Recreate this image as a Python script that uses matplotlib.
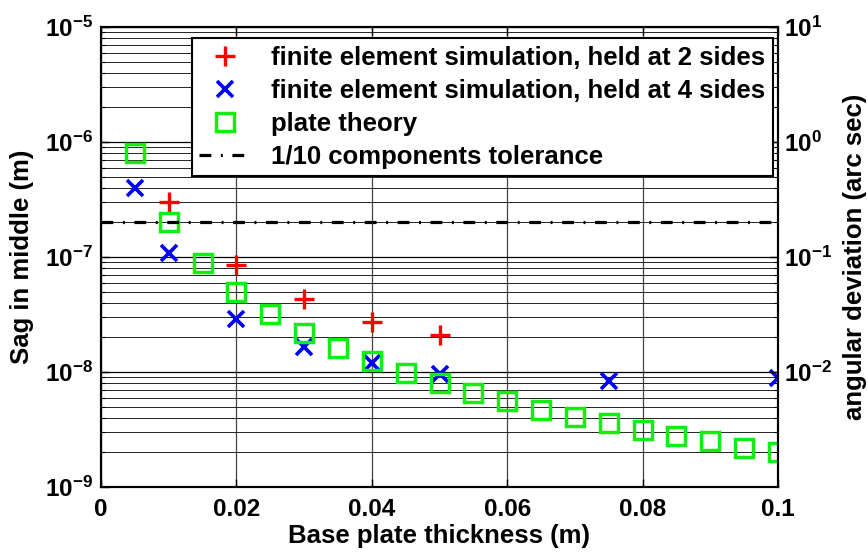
import math
import matplotlib
matplotlib.use('Agg')
import matplotlib.pyplot as plt
from matplotlib.ticker import FixedLocator, FuncFormatter, NullFormatter

# ---------------- data ----------------
thickness_plate = [0.005, 0.010, 0.015, 0.020, 0.025, 0.030, 0.035, 0.040, 0.045, 0.050,
                   0.055, 0.060, 0.065, 0.070, 0.075, 0.080, 0.085, 0.090, 0.095, 0.100]
sag_plate = [8.0e-7, 2.0e-7, 8.9e-8, 5.0e-8, 3.2e-8, 2.2e-8, 1.63e-8, 1.25e-8, 9.9e-9, 8.0e-9,
             6.6e-9, 5.6e-9, 4.7e-9, 4.1e-9, 3.6e-9, 3.1e-9, 2.8e-9, 2.5e-9, 2.2e-9, 2.0e-9]

thickness_fe2 = [0.01, 0.02, 0.03, 0.04, 0.05]
sag_fe2 = [3.0e-7, 8.5e-8, 4.3e-8, 2.7e-8, 2.1e-8]

thickness_fe4 = [0.005, 0.01, 0.02, 0.03, 0.04, 0.05, 0.075, 0.1]
sag_fe4 = [4.0e-7, 1.08e-7, 2.9e-8, 1.66e-8, 1.2e-8, 9.6e-9, 8.4e-9, 8.9e-9]

tolerance_x = [0.0, 0.1]
tolerance_sag = [2.0e-7, 2.0e-7]

x_ticks = [0, 0.02, 0.04, 0.06, 0.08, 0.1]
x_tick_labels = ['0', '0.02', '0.04', '0.06', '0.08', '0.1']
left_exponents = [-9, -8, -7, -6, -5]
right_exponents = [-2, -1, 0, 1]
arcsec_per_m = 1e6

labels = ['finite element simulation, held at 2 sides',
          'finite element simulation, held at 4 sides',
          'plate theory',
          '1/10 components tolerance']

# ---------------- style ----------------
plt.rcParams['font.family'] = ['Liberation Sans', 'DejaVu Sans']
plt.rcParams['font.weight'] = 'bold'
plt.rcParams['mathtext.fontset'] = 'custom'
plt.rcParams['mathtext.rm'] = 'Liberation Sans:bold'
plt.rcParams['mathtext.bf'] = 'Liberation Sans:bold'
plt.rcParams['mathtext.it'] = 'Liberation Sans:bold'
plt.rcParams['mathtext.default'] = 'bf'

TICK_FS = 17.5
LABEL_FS = 18.5
LEG_FS = 18.5


def pow_fmt(v, p):
    return r'$\mathbf{10^{%d}}$' % round(math.log10(v))


fig = plt.figure(figsize=(8.68, 5.54), dpi=100)
ax = fig.add_axes([101/868, 67/554, 677/868, 460/554])

ax.set_yscale('log')
ax.set_xlim(0, 0.1)
ax.set_ylim(1e-9, 1e-5)

ax.set_axisbelow(True)
ax.yaxis.set_major_locator(FixedLocator([10.0**e for e in left_exponents]))
minor_left = [m * 10.0**e for e in range(-9, -5) for m in range(2, 10)]
ax.yaxis.set_minor_locator(FixedLocator(minor_left))
ax.yaxis.set_minor_formatter(NullFormatter())
ax.yaxis.set_major_formatter(FuncFormatter(pow_fmt))
ax.grid(True, which='major', axis='y', color='black', lw=0.9)
ax.grid(True, which='major', axis='x', color='#444444', lw=0.9)
ax.grid(True, which='minor', axis='y', color='#222222', lw=0.7)

ax.set_xticks(x_ticks)
ax.set_xticklabels(x_tick_labels)

ax.plot(thickness_fe2, sag_fe2, linestyle='none', marker='+', color='#ff0000',
        markersize=15, markeredgewidth=2.4, label=labels[0], zorder=3)
ax.plot(thickness_fe4, sag_fe4, linestyle='none', marker='x', color='#0000ff',
        markersize=11, markeredgewidth=2.6, label=labels[1], zorder=3)
ax.plot(thickness_plate, sag_plate, linestyle='none', marker='s', markerfacecolor='none',
        markeredgecolor='#11ee11', markersize=12.5, markeredgewidth=2.5, label=labels[2], zorder=4)
ax.plot(tolerance_x, tolerance_sag, color='black', lw=2.3,
        linestyle=(0, (3.7, 3.0, 0.6, 3.0)), label=labels[3], zorder=5, clip_on=False)

ax.tick_params(axis='both', which='both', direction='in', top=True, right=False,
               labelsize=TICK_FS)
ax.tick_params(axis='y', which='major', length=6, width=1, pad=6)
ax.tick_params(axis='y', which='minor', length=3, width=0.8)
ax.tick_params(axis='x', which='major', length=6, width=1, pad=8)
for s in ax.spines.values():
    s.set_linewidth(1.5)

ax.set_xlabel('Base plate thickness (m)', fontsize=LABEL_FS, fontweight='bold', labelpad=2)
ax.set_ylabel('Sag in middle (m)', fontsize=LABEL_FS, fontweight='bold', labelpad=8)

# right axis
ax2 = ax.twinx()
ax2.set_yscale('log')
ax2.set_ylim(1e-9 * arcsec_per_m, 1e-5 * arcsec_per_m)
ax2.yaxis.set_major_locator(FixedLocator([10.0**e for e in right_exponents]))
minor_right = [m * 10.0**e for e in range(-3, 1) for m in range(2, 10)]
ax2.yaxis.set_minor_locator(FixedLocator(minor_right))
ax2.yaxis.set_minor_formatter(NullFormatter())
ax2.yaxis.set_major_formatter(FuncFormatter(pow_fmt))
ax2.tick_params(axis='y', which='both', direction='in', labelsize=TICK_FS)
ax2.tick_params(axis='y', which='major', length=6, width=1, pad=4)
ax2.tick_params(axis='y', which='minor', length=3, width=0.8)
ax2.set_ylabel('angular deviation (arc sec)', fontsize=LABEL_FS, fontweight='bold', labelpad=8)
for s in ax2.spines.values():
    s.set_linewidth(1.5)

leg = ax2.legend(*ax.get_legend_handles_labels(), loc='upper right',
                 bbox_to_anchor=(0.993, 0.976), borderaxespad=0, fontsize=LEG_FS,
                 frameon=True, fancybox=False, framealpha=1, edgecolor='black',
                 labelspacing=0.35, handlelength=2.0, handletextpad=0.8,
                 borderpad=0.3, numpoints=1)
leg.get_frame().set_linewidth(1.5)
for t in leg.get_texts():
    t.set_fontweight('bold')

fig.savefig('out.png', dpi=100)
